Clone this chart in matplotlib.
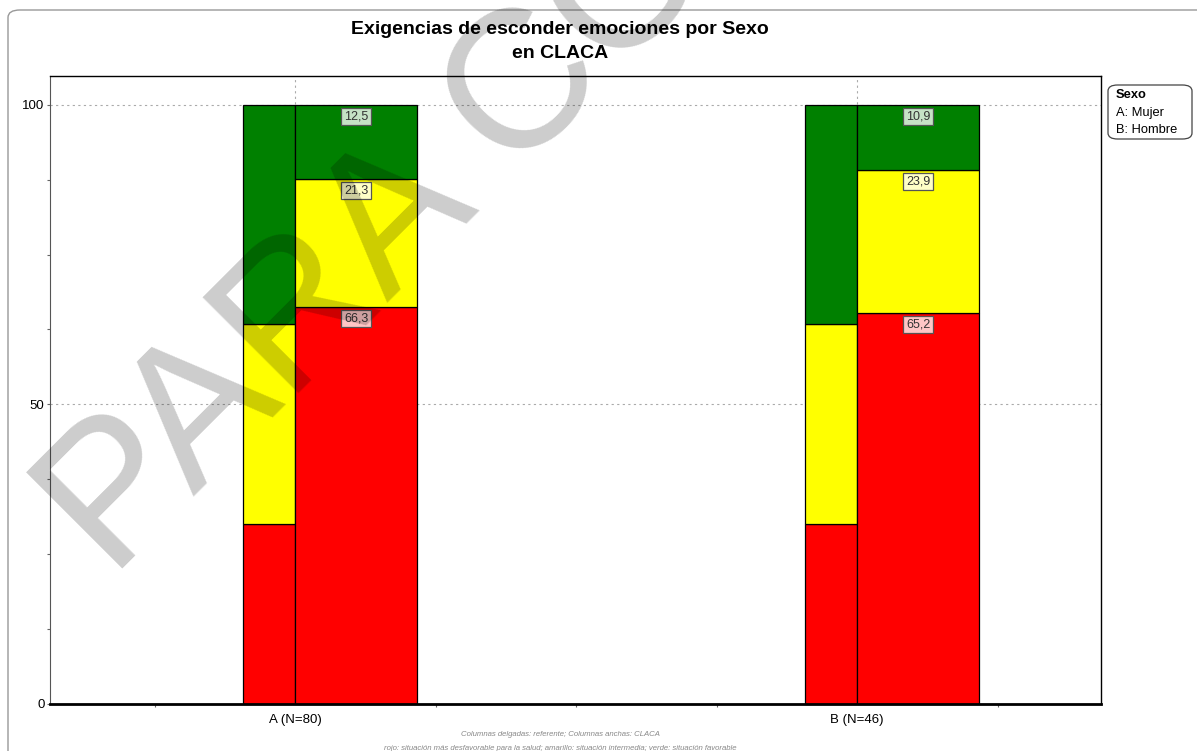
import matplotlib
matplotlib.use("Agg")
import matplotlib.pyplot as plt
from matplotlib.patches import FancyBboxPatch
from matplotlib.ticker import MultipleLocator, FixedLocator
import numpy as np

plt.rcParams['font.family'] = ['Liberation Sans', 'DejaVu Sans']

groups = ['A (N=80)', 'B (N=46)']
# referente (columnas delgadas)
ref_rojo = [30.0, 30.0]
ref_amarillo = [33.4, 33.4]
ref_verde = [36.6, 36.6]
# CLACA (columnas anchas)
claca_rojo = [66.3, 65.2]
claca_amarillo = [21.3, 23.9]
claca_verde = [12.5, 10.9]

ROJO, AMARILLO, VERDE = '#ff0000', '#ffff00', '#008000'

fig = plt.figure(figsize=(11.97, 7.51), dpi=100)
ax = fig.add_axes([50 / 1197, 1 - 704 / 751, 1051 / 1197, 628 / 751])

x = np.arange(1, len(groups) + 1)
w_thin, w_wide = 0.0925, 0.217

def stack(xpos, width, rojo, amarillo, verde):
    bottom = np.zeros(len(xpos))
    for vals, col in ((rojo, ROJO), (amarillo, AMARILLO), (verde, VERDE)):
        # el redondeo puede pasar de 100: se recorta el último tramo
        h = np.minimum(np.array(vals), 100 - bottom)
        ax.bar(xpos, h, width=width, bottom=bottom, align='edge',
               color=col, edgecolor='black', linewidth=0.9, zorder=2)
        bottom = bottom + h

stack(x - w_thin, w_thin, ref_rojo, ref_amarillo, ref_verde)
stack(x, w_wide, claca_rojo, claca_amarillo, claca_verde)

# etiquetas de valor en las columnas anchas
bottom = np.zeros(len(x))
for vals in (claca_rojo, claca_amarillo, claca_verde):
    tops = np.minimum(bottom + np.array(vals), 100)
    for xi, v, t in zip(x, vals, tops):
        ax.text(xi + w_wide / 2, t - 1.9, f'{v:.1f}'.replace('.', ','),
                ha='center', va='center', fontsize=9, color='#333333', zorder=4,
                bbox=dict(boxstyle='square,pad=0.2', fc=(1, 1, 1, 0.78),
                          ec='#555555', lw=0.9))
    bottom = tops

ax.set_xlim(0.564, 2.434)
ax.set_ylim(0, 104.8)
ax.xaxis.set_major_locator(FixedLocator(x))
ax.set_xticklabels(groups, fontsize=9.5)
ax.xaxis.set_minor_locator(FixedLocator([0.75, 1.25, 1.5, 1.75, 2.25]))
ax.yaxis.set_major_locator(MultipleLocator(50))
ax.yaxis.set_minor_locator(MultipleLocator(12.5))
ax.tick_params(axis='both', which='major', labelsize=9.5, length=2.5, width=0.8, color='#666666', pad=1.5)
ax.tick_params(axis='x', which='major', length=0, pad=7)
ax.tick_params(axis='both', which='minor', length=2.5, width=0.8, color='#666666')
ax.grid(True, which='major', linestyle=(0, (2, 3)), color='#aaaaaa', linewidth=0.8, zorder=0)
ax.set_axisbelow(True)
for side in ('top', 'right'):
    ax.spines[side].set_linewidth(1.0)
ax.spines['left'].set_color('#555555')
ax.spines['bottom'].set_linewidth(2.0)

fig.text(560 / 1197, 1 - 30 / 751, 'Exigencias de esconder emociones por Sexo',
         ha='center', va='center', fontsize=14, fontweight='bold')
fig.text(560 / 1197, 1 - 53 / 751, 'en CLACA',
         ha='center', va='center', fontsize=14, fontweight='bold')

# recuadro de leyenda
fig.patches.append(FancyBboxPatch((1108 / 1197, 1 - 139 / 751), 84 / 1197, 54 / 751,
                                  boxstyle='round,pad=0,rounding_size=0.008',
                                  transform=fig.transFigure, fc='white', ec='#444444', lw=0.9))
fig.text(1116 / 1197, 1 - 95 / 751, 'Sexo', fontsize=9.3, fontweight='bold', va='center')
fig.text(1116 / 1197, 1 - 113 / 751, 'A: Mujer', fontsize=9.3, va='center')
fig.text(1116 / 1197, 1 - 130 / 751, 'B: Hombre', fontsize=9.3, va='center')

# marco exterior
fig.patches.append(FancyBboxPatch((8 / 1197, -0.05), 1.05, 1 - 10 / 751 + 0.05,
                                  boxstyle='round,pad=0,rounding_size=0.01',
                                  transform=fig.transFigure, fc='none', ec='#999999', lw=1.0))

fig.text(560 / 1197, 1 - 735 / 751, 'Columnas delgadas: referente; Columnas anchas: CLACA',
         ha='center', va='center', fontsize=5.6, style='italic', color='#888888')
fig.text(560 / 1197, 1 - 748 / 751,
         'rojo: situación más desfavorable para la salud; amarillo: situación intermedia; verde: situación favorable',
         ha='center', va='center', fontsize=5.6, style='italic', color='#888888')

fig.text(112 / 1197, 1 - 580 / 751, 'PARA CONSULTA', fontsize=142, color='black', alpha=0.2,
         rotation=45, rotation_mode='anchor', ha='left', va='baseline', zorder=10)

fig.savefig('out.png', dpi=100)
